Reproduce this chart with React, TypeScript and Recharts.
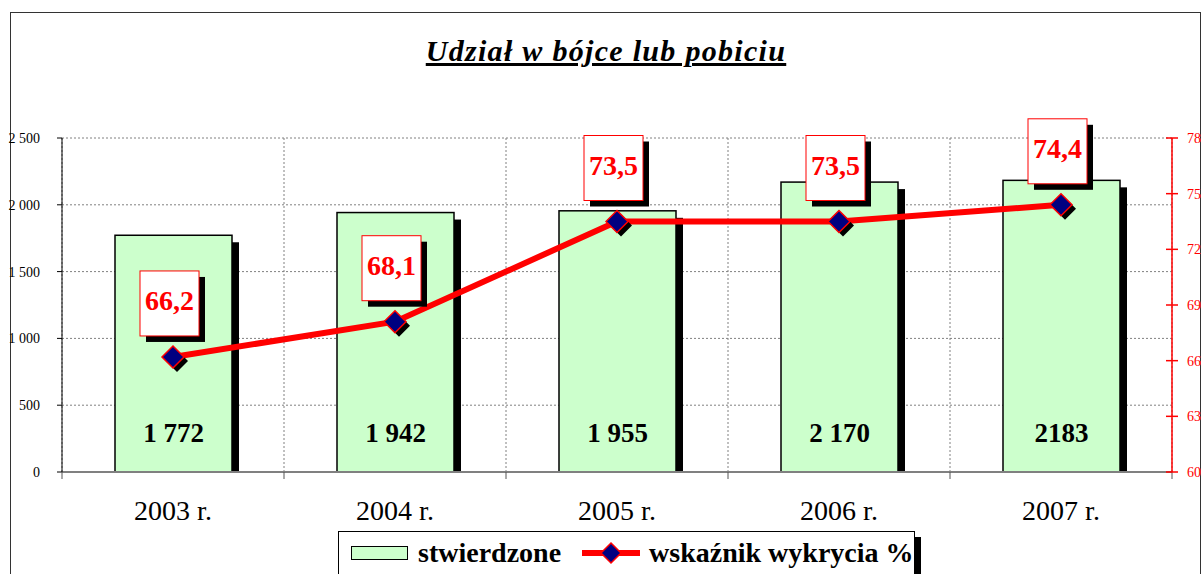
import { ComposedChart, Bar, Line, XAxis, YAxis, CartesianGrid, LabelList } from "recharts"

const years = ["2003 r.", "2004 r.", "2005 r.", "2006 r.", "2007 r."]
const stwierdzone = [1772, 1942, 1955, 2170, 2183]
const stwierdzoneLabels = ["1 772", "1 942", "1 955", "2 170", "2183"]
const wskaznik = [66.2, 68.1, 73.5, 73.5, 74.4]
const leftTicks = [0, 500, 1000, 1500, 2000, 2500]
const rightTicks = [60, 63, 66, 69, 72, 75, 78]

const data = years.map((year, i) => ({
  year,
  stwierdzone: stwierdzone[i],
  label: stwierdzoneLabels[i],
  wskaznik: wskaznik[i]
}))

const FONT = "'Liberation Serif', 'DejaVu Serif', serif"
const GREEN = "#CCFFCC"
const RED = "#FF0000"
const NAVY = "#000080"

const fmtThousands = (v: number) =>
  v >= 1000 ? `${Math.floor(v / 1000)} ${String(v % 1000).padStart(3, "0")}` : String(v)

// vertical grid lines sit on the category boundaries, not the centres
const boundaryLines = ({ offset }: any) => {
  const n = years.length
  return Array.from({ length: n + 1 }, (_, i) => offset.left + (i / n) * offset.width)
}

const BarWithShadow = (props: any) => {
  const { x, y, width, height } = props
  if (!height) return null
  return (
    <g>
      <rect x={x + 7} y={y + 7} width={width} height={height - 7} fill="#000" />
      <rect x={x} y={y} width={width} height={height} fill={GREEN} stroke="#000" strokeWidth={1.5} />
    </g>
  )
}

const diamondPoints = (cx: number, cy: number, r: number) =>
  `${cx},${cy - r} ${cx + r},${cy} ${cx},${cy + r} ${cx - r},${cy}`

const DiamondDot = (props: any) => {
  const { cx, cy, index } = props
  return (
    <g key={`dot-${index}`}>
      <polygon points={diamondPoints(cx + 4, cy + 4, 11)} fill="#000" />
      <polygon points={diamondPoints(cx, cy, 11)} fill={NAVY} stroke={RED} strokeWidth={1.5} />
    </g>
  )
}

const ValueBox = (props: any) => {
  const { x, y, value } = props
  const bx = x - 33
  const by = y - 86
  return (
    <g>
      <rect x={bx + 6} y={by + 6} width={59} height={65} fill="#000" />
      <rect x={bx} y={by} width={59} height={65} fill="#fff" stroke={RED} strokeWidth={1} />
      <text
        x={bx + 29.5}
        y={by + 39}
        textAnchor="middle"
        fill={RED}
        fontFamily={FONT}
        fontWeight="bold"
        fontSize={28}
      >
        {Number(value).toFixed(1).replace(".", ",")}
      </text>
    </g>
  )
}

const BarValue = (props: any) => {
  const { x, y, width, height, value } = props
  return (
    <text
      x={x + width / 2}
      y={y + height - 30}
      textAnchor="middle"
      fill="#000"
      fontFamily={FONT}
      fontWeight="bold"
      fontSize={27}
    >
      {value}
    </text>
  )
}

// category label plus the small tick marks on the band boundaries
const CategoryTick = (props: any) => {
  const { x, y, payload, index, width, visibleTicksCount } = props
  const half =
    typeof payload?.offset === "number" && payload.offset > 0
      ? payload.offset
      : width / visibleTicksCount / 2
  const axisY = y
  const marks = [x - half]
  if (index === visibleTicksCount - 1) marks.push(x + half)
  return (
    <g>
      {marks.map((mx, i) => (
        <line key={i} x1={mx} x2={mx} y1={axisY} y2={axisY + 7} stroke="#555" strokeWidth={1} />
      ))}
      <text x={x} y={axisY + 48} textAnchor="middle" fill="#000" fontFamily={FONT} fontSize={28}>
        {payload.value}
      </text>
    </g>
  )
}

const RightTick = (props: any) => {
  const { x, y, payload } = props
  return (
    <g>
      <line x1={x - 21} x2={x - 9} y1={y} y2={y} stroke={RED} strokeWidth={1.5} />
      <text x={x} y={y} dy={5} fill={RED} fontFamily={FONT} fontSize={14} textAnchor="start">
        {payload.value}
      </text>
    </g>
  )
}

const LegendBox = () => (
  <div
    style={{
      position: "absolute",
      left: 338,
      top: 531,
      width: 577,
      height: 50,
      border: "1px solid #000",
      background: "#fff",
      boxShadow: "6px 6px 0 #000",
      display: "flex",
      alignItems: "center",
      fontFamily: FONT,
      fontWeight: "bold",
      fontSize: 28,
      color: "#000",
      boxSizing: "border-box",
      paddingBottom: 7,
      whiteSpace: "nowrap"
    }}
  >
    <div
      style={{
        width: 55,
        height: 12,
        background: GREEN,
        border: "1.5px solid #000",
        marginLeft: 12,
        marginRight: 10
      }}
    />
    <span>stwierdzone</span>
    <svg width={58} height={26} style={{ marginLeft: 21, marginRight: 9 }}>
      <line x1={0} x2={58} y1={13} y2={13} stroke={RED} strokeWidth={6} />
      <polygon points={diamondPoints(29, 13, 10)} fill={NAVY} stroke={RED} strokeWidth={1.5} />
    </svg>
    <span>wskaźnik wykrycia %</span>
  </div>
)

export default function App() {
  return (
    <div
      style={{
        position: "absolute",
        left: 0,
        top: 0,
        width: 1203,
        height: 574,
        overflow: "hidden",
        background: "#fff"
      }}
    >
      <div
        style={{
          position: "absolute",
          left: 10,
          top: 12,
          width: 1191,
          height: 600,
          border: "1.5px solid #333",
          boxSizing: "border-box"
        }}
      />
      <div
        style={{
          position: "absolute",
          left: 0,
          top: 33,
          width: 1212,
          textAlign: "center",
          fontFamily: FONT,
          fontWeight: "bold",
          fontStyle: "italic",
          fontSize: 30,
          letterSpacing: 1.3,
          textDecoration: "underline",
          textDecorationThickness: 3,
          lineHeight: 1.2
        }}
      >
        Udział w bójce lub pobiciu
      </div>
      <div style={{ position: "absolute", left: 0, top: 0 }}>
        <ComposedChart
          width={1203}
          height={574}
          data={data}
          margin={{ top: 138, right: 0, bottom: 34, left: 0 }}
        >
          <CartesianGrid
            xAxisId="b"
            yAxisId="left"
            stroke="#808080"
            strokeDasharray="2 2"
            verticalCoordinatesGenerator={boundaryLines}
          />
          <XAxis
            xAxisId="b"
            dataKey="year"
            height={68}
            axisLine={{ stroke: "#808080", strokeWidth: 2 }}
            tickLine={false}
            tickSize={0}
            tickMargin={0}
            tick={<CategoryTick />}
          />
          <YAxis
            yAxisId="left"
            width={62}
            domain={[0, 2500]}
            ticks={leftTicks}
            tickFormatter={fmtThousands}
            tickSize={5}
            tickMargin={17}
            axisLine={{ stroke: "#000" }}
            tickLine={{ stroke: "#000" }}
            tick={{ fill: "#000", fontFamily: FONT, fontSize: 14 }}
          />
          <YAxis
            yAxisId="right"
            orientation="right"
            width={31}
            domain={[60, 78]}
            ticks={rightTicks}
            tickSize={6}
            tickMargin={9}
            axisLine={{ stroke: RED, strokeWidth: 1.5 }}
            tickLine={false}
            tick={<RightTick />}
          />
          <Bar
            xAxisId="b"
            yAxisId="left"
            dataKey="stwierdzone"
            barSize={117}
            shape={<BarWithShadow />}
            isAnimationActive={false}
          >
            <LabelList dataKey="label" content={<BarValue />} />
          </Bar>
          <Line
            xAxisId="b"
            yAxisId="right"
            dataKey="wskaznik"
            stroke={RED}
            strokeWidth={6}
            dot={DiamondDot}
            activeDot={false}
            isAnimationActive={false}
          >
            <LabelList dataKey="wskaznik" content={<ValueBox />} />
          </Line>
        </ComposedChart>
      </div>
      <LegendBox />
    </div>
  )
}
